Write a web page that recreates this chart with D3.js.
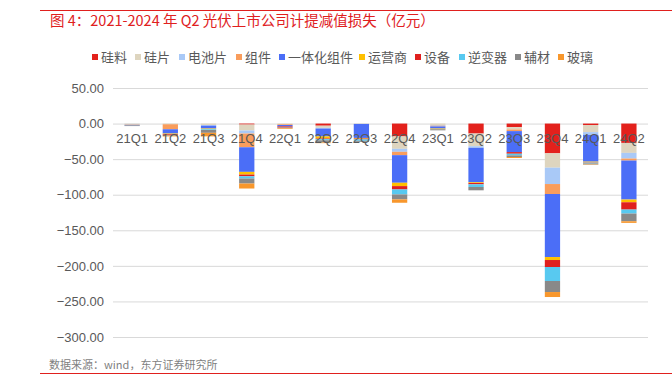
<!DOCTYPE html>
<html><head><meta charset="utf-8">
<script src="https://cdn.jsdelivr.net/npm/d3@7/dist/d3.min.js"></script>
<style>body{margin:0;background:#fff;} svg{display:block;font-family:"Noto Sans CJK SC","Liberation Sans",sans-serif;}</style>
</head><body>
<svg id="c" width="672" height="386"></svg>
<script>
const categories = ["21Q1","21Q2","21Q3","21Q4","22Q1","22Q2","22Q3","22Q4","23Q1","23Q2","23Q3","23Q4","24Q1","24Q2"];
const seriesNames = ["硅料","硅片","电池片","组件","一体化组件","运营商","设备","逆变器","辅材","玻璃"];
const seriesColors = ["#e3211c","#ded5bf","#a9c9f7","#f99d5c","#4b6ef7","#ffc000","#e0201e","#58c9f0","#898989","#f8972c"];
// values per series, one per quarter (亿元)
const siliconMaterial = [0,0,0,-1.4,0,-3,0,-18,0,-14,-5,-41.8,-2,-27.2];
const wafer           = [-0.5,-1,-2,-8.4,-1,-3,-0.5,-17.5,-2,-17.8,-3.3,-20.2,-10,-14];
const cell            = [-1,0,-1,-4.2,0,-1,0,-4.2,-1,-2.3,0,-23,-4,-8];
const module          = [-0.5,-7,0,-19.3,-1,0,0,-4.7,-1,0,-2.3,-14,0,-2.8];
const integrated      = [-0.5,-6,-4,-34.6,-2,-11,-19.7,-38.8,-3,-48.4,-29.5,-88.6,-37.5,-54.8];
const operator        = [0,-1,-1,-3.8,0,-3,-1,-4.7,-1,-1,0,-4.2,-1,-3.8];
const equipment       = [0,-1,0,-2.4,-1.5,-1,-1,-4.7,0,-1.9,-2.3,-9.8,-0.5,-10.3];
const inverter        = [0,0,-1,-3.2,0,-1.5,-2,-7,0,-3.7,-2.3,-19.7,-1,-5.6];
const auxiliary       = [-1,-1,-4,-7,-1,-3,-1.5,-7,-1.5,-4.7,-2.3,-15.5,-1.5,-10.8];
const glass           = [0,-1,-5,-7,-1,-1,0,-4.7,0,0,-1.4,-7,-0.5,-2.3];
const yTicks = [50,0,-50,-100,-150,-200,-250,-300];

const seriesValues = [siliconMaterial,wafer,cell,module,integrated,operator,equipment,inverter,auxiliary,glass];
const table = categories.map((c,i)=>{const o={cat:c}; seriesNames.forEach((s,j)=>o[s]=seriesValues[j][i]); return o;});

const svg = d3.select("#c");
const pL=113, pR=648, pT=88, pB=337;
const x = d3.scaleBand().domain(categories).range([pL,pR]).paddingInner(0.6).paddingOuter(0.3);
const y = d3.scaleLinear().domain([-300,50]).range([pB,pT]);

// top & bottom red rules
svg.append("line").attr("x1",40).attr("x2",672).attr("y1",10.5).attr("y2",10.5).attr("stroke","#e0201e").attr("stroke-width",1);
svg.append("line").attr("x1",40).attr("x2",672).attr("y1",373.5).attr("y2",373.5).attr("stroke","#e0201e").attr("stroke-width",1);

svg.append("text").attr("x",50).attr("y",26).attr("fill","#e0201e").attr("font-size",14.5)
  .text("图 4：2021-2024 年 Q2 光伏上市公司计提减值损失（亿元）");

// gridlines and y labels
const yAxis = d3.axisLeft(y).tickValues(yTicks).tickSize(-(pR-pL)).tickFormat(d3.format(".2f"));
const gy = svg.append("g").attr("transform",`translate(${pL},0)`).call(yAxis);
gy.select(".domain").remove();
gy.selectAll(".tick line").attr("stroke","#d9d9d9").attr("stroke-width",1);
gy.selectAll(".tick text").attr("x",-9).attr("fill","#595959").attr("font-size",13).attr("font-family","Liberation Sans, Arial, sans-serif");

// bars
const stack = d3.stack().keys(seriesNames).offset(d3.stackOffsetDiverging);
const layers = stack(table);
svg.append("g").selectAll("g").data(layers).join("g")
  .attr("fill",(d,i)=>seriesColors[i])
  .selectAll("rect").data(d=>d).join("rect")
  .attr("x",d=>x(d.data.cat))
  .attr("width",x.bandwidth())
  .attr("y",d=>y(Math.max(d[0],d[1])))
  .attr("height",d=>Math.abs(y(d[0])-y(d[1])));

// category labels (drawn over bars)
const xAxis = d3.axisBottom(x).tickSize(0);
const gx = svg.append("g").attr("transform",`translate(0,${y(0)})`).call(xAxis);
gx.select(".domain").remove();
gx.selectAll(".tick text").attr("dy",0).attr("y",19).attr("fill","#595959").attr("font-size",13).attr("font-family","Liberation Sans, Arial, sans-serif");

// legend
const legendX = [92,135,179,236,279,359,415,459,515,558];
const lg = svg.append("g");
seriesNames.forEach((s,i)=>{
  lg.append("rect").attr("x",legendX[i]).attr("y",54).attr("width",6).attr("height",6).attr("fill",seriesColors[i]);
  lg.append("text").attr("x",legendX[i]+9).attr("y",62).attr("font-size",13).attr("fill","#595959").text(s);
});

svg.append("text").attr("x",49).attr("y",369).attr("font-size",11).attr("fill","#7f7f7f").text("数据来源：wind，东方证券研究所");
</script>
</body></html>
